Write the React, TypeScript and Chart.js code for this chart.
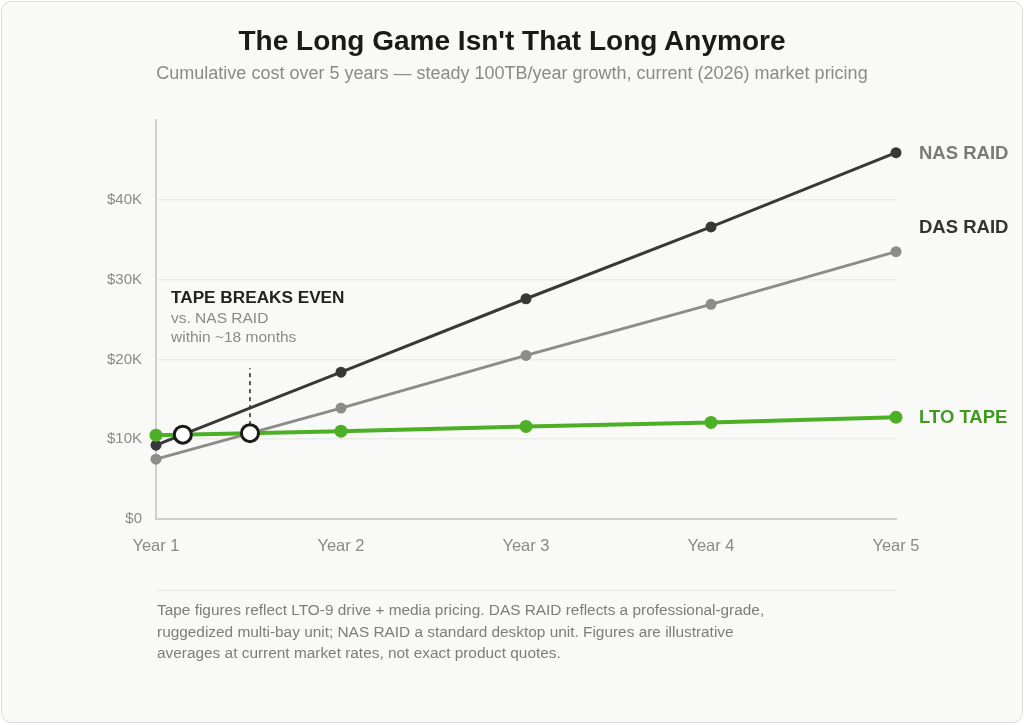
import React, { useEffect, useRef } from "react";
import { Chart, registerables } from "chart.js";

Chart.register(...registerables);

const years = [1, 2, 3, 4, 5];
const yearLabels = ["Year 1", "Year 2", "Year 3", "Year 4", "Year 5"];
const nasRaid = [9250, 18400, 27600, 36600, 45900];
const dasRaid = [7500, 13900, 20500, 26900, 33500];
const ltoTape = [10500, 11000, 11600, 12100, 12750];
const breakEvenX = [1.145, 1.508];
const breakEvenY = [10570, 10760];
const dashTopValue = 18900;
const yTicks = [0, 10000, 20000, 30000, 40000];
const yTickLabels = ["$0", "$10K", "$20K", "$30K", "$40K"];
const seriesLabels = ["NAS RAID", "DAS RAID", "LTO TAPE"];
const annotationLines = ["TAPE BREAKS EVEN", "vs. NAS RAID", "within ~18 months"];

const FONT = '"Liberation Sans", Arial, Helvetica, sans-serif';
const DARK = "#383838";
const GRAY = "#8c8c8a";
const GREEN = "#4bb026";
const GREEN_TEXT = "#3f9a1f";

const pts = (vals: number[]) => vals.map((v, i) => ({ x: years[i], y: v }));

export default function App() {
  const ref = useRef<HTMLCanvasElement | null>(null);

  useEffect(() => {
    const canvas = ref.current;
    if (!canvas) return;

    const overlay = {
      id: "overlay",
      beforeDatasetsDraw(chart: any) {
        const { ctx, scales } = chart;
        const x = scales.x.getPixelForValue(breakEvenX[1]);
        const y0 = scales.y.getPixelForValue(breakEvenY[1]);
        const y1 = scales.y.getPixelForValue(dashTopValue);
        ctx.save();
        ctx.strokeStyle = "#222";
        ctx.lineWidth = 1.5;
        ctx.setLineDash([4, 4]);
        ctx.beginPath();
        ctx.moveTo(x, y0);
        ctx.lineTo(x, y1);
        ctx.stroke();
        ctx.restore();
      },
      afterDraw(chart: any) {
        const { ctx, scales, chartArea } = chart;
        ctx.save();
        const lastIdx = years.length - 1;
        const labelDefs = [
          { text: seriesLabels[0], v: nasRaid[lastIdx], dy: 0, color: "#7a7a78" },
          { text: seriesLabels[1], v: dasRaid[lastIdx], dy: -25, color: "#333333" },
          { text: seriesLabels[2], v: ltoTape[lastIdx], dy: 0, color: GREEN_TEXT },
        ];
        ctx.font = `bold 18.5px ${FONT}`;
        ctx.textAlign = "left";
        ctx.textBaseline = "middle";
        for (const d of labelDefs) {
          ctx.fillStyle = d.color;
          ctx.fillText(d.text, chartArea.right + 23, scales.y.getPixelForValue(d.v) + d.dy + 1);
        }
        const ax = 171;
        ctx.font = `bold 17.2px ${FONT}`;
        ctx.fillStyle = "#222";
        ctx.fillText(annotationLines[0], ax, 298);
        ctx.font = `15.5px ${FONT}`;
        ctx.fillStyle = "#8a8a88";
        ctx.fillText(annotationLines[1], ax, 319);
        ctx.fillText(annotationLines[2], ax, 338);
        ctx.restore();
      },
    };

    const chart = new Chart(canvas, {
      type: "line",
      data: {
        datasets: [
          {
            label: "break-even",
            data: breakEvenX.map((x, i) => ({ x, y: breakEvenY[i] })),
            showLine: false,
            pointRadius: 8.5,
            pointBackgroundColor: "#ffffff",
            pointBorderColor: "#1a1a1a",
            pointBorderWidth: 3,
            clip: false,
            order: 0,
          },
          {
            label: seriesLabels[2],
            data: pts(ltoTape),
            borderColor: GREEN,
            backgroundColor: GREEN,
            borderWidth: 4,
            pointRadius: 6.5,
            pointBackgroundColor: GREEN,
            pointBorderWidth: 0,
            clip: false,
            order: 1,
          },
          {
            label: seriesLabels[0],
            data: pts(nasRaid),
            borderColor: DARK,
            backgroundColor: DARK,
            borderWidth: 3,
            pointRadius: 5.5,
            pointBackgroundColor: DARK,
            pointBorderWidth: 0,
            clip: false,
            order: 2,
          },
          {
            label: seriesLabels[1],
            data: pts(dasRaid),
            borderColor: GRAY,
            backgroundColor: GRAY,
            borderWidth: 3,
            pointRadius: 5.5,
            pointBackgroundColor: GRAY,
            pointBorderWidth: 0,
            clip: false,
            order: 3,
          },
        ],
      },
      options: {
        animation: false,
        responsive: false,
        devicePixelRatio: 1,
        layout: { padding: { left: 0, right: 128, top: 120, bottom: 0 } },
        plugins: { legend: { display: false }, tooltip: { enabled: false } },
        scales: {
          x: {
            type: "linear",
            min: 1,
            max: 5,
            afterFit: (s: any) => {
              s.height = 81;
            },
            afterBuildTicks: (s: any) => {
              s.ticks = years.map((v) => ({ value: v }));
            },
            ticks: {
              callback: (v: any) => yearLabels[years.indexOf(Number(v))] ?? "",
              color: "#8a8a88",
              font: { size: 16.5, family: FONT },
              padding: 18,
              maxRotation: 0,
            },
            grid: { display: false, drawTicks: false },
            border: { display: true, color: "#cfcfcd", width: 2 },
          },
          y: {
            type: "linear",
            min: 0,
            max: 50000,
            afterFit: (s: any) => {
              s.width = 156;
            },
            afterBuildTicks: (s: any) => {
              s.ticks = yTicks.map((v) => ({ value: v }));
            },
            ticks: {
              callback: (v: any) => yTickLabels[yTicks.indexOf(Number(v))] ?? "",
              color: "#8a8a88",
              font: { size: 15, family: FONT },
              padding: 14,
            },
            grid: { color: "#ebebea", lineWidth: 1.5, drawTicks: false },
            border: { display: true, color: "#cfcfcd", width: 2 },
          },
        },
      },
      plugins: [overlay],
    } as any);

    return () => chart.destroy();
  }, []);

  return (
    <div
      style={{
        position: "fixed",
        left: 1,
        top: 1,
        width: 1022,
        height: 722,
        boxSizing: "border-box",
        border: "1px solid #dcdcda",
        borderRadius: 10,
        background: "#f9f9f8",
        fontFamily: FONT,
        overflow: "hidden",
      }}
    >
      <div
        style={{
          position: "absolute",
          left: 0,
          right: 0,
          top: 22,
          textAlign: "center",
          fontSize: 28,
          lineHeight: "34px",
          fontWeight: "bold",
          color: "#1a1a1a",
        }}
      >
        The Long Game Isn't That Long Anymore
      </div>
      <div
        style={{
          position: "absolute",
          left: 0,
          right: 0,
          top: 61,
          textAlign: "center",
          fontSize: 18,
          lineHeight: "20px",
          color: "#8a8a88",
        }}
      >
        Cumulative cost over 5 years — steady 100TB/year growth, current (2026) market pricing
      </div>
      <canvas
        ref={ref}
        width={1024}
        height={600}
        style={{ position: "absolute", left: -2, top: -2, width: 1024, height: 600 }}
      />
      <div
        style={{
          position: "absolute",
          left: 154,
          top: 588,
          width: 740,
          borderTop: "1.5px solid #e6e6e4",
        }}
      />
      <div
        style={{
          position: "absolute",
          left: 155,
          top: 597,
          width: 625,
          fontSize: 15.4,
          lineHeight: "21.5px",
          color: "#7d7d7b",
        }}
      >
        Tape figures reflect LTO-9 drive + media pricing. DAS RAID reflects a professional-grade, ruggedized multi-bay unit; NAS RAID a standard desktop unit. Figures are illustrative averages at current market rates, not exact product quotes.
      </div>
    </div>
  );
}
